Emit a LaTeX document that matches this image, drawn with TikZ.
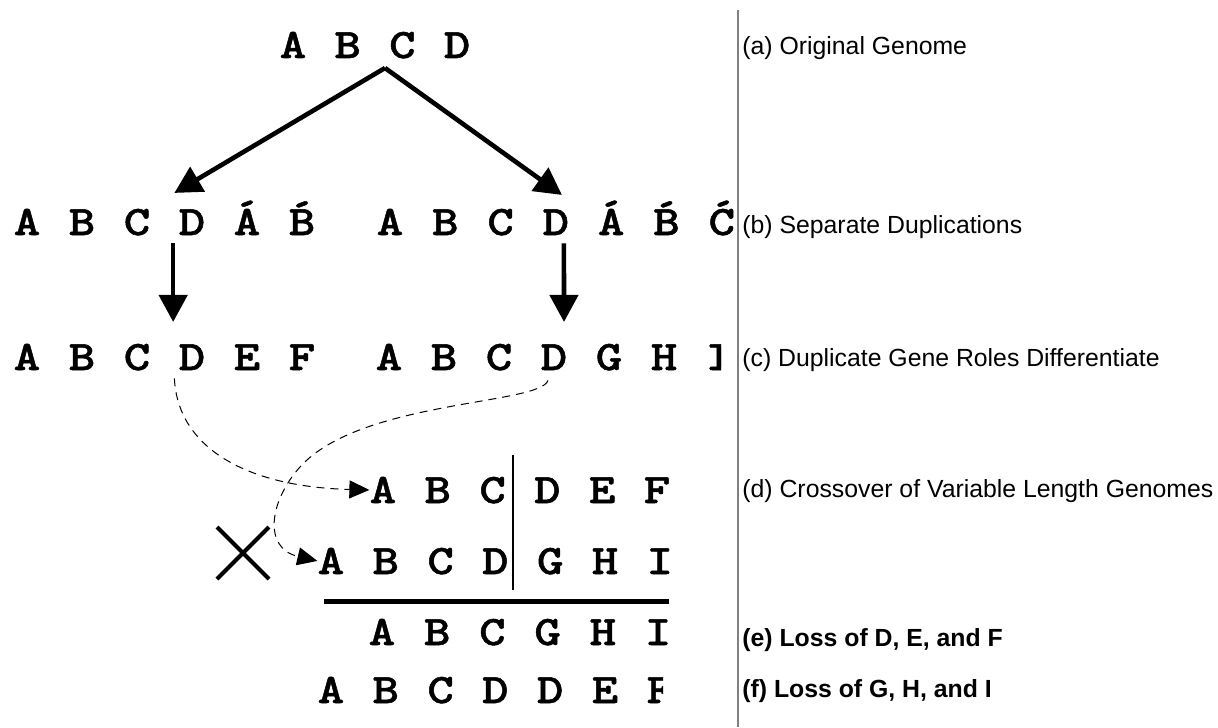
\documentclass[tikz,border=0pt]{standalone}
\usepackage{fontspec}
\setmainfont{Liberation Sans}
\newfontfamily\genefont{lmmonolt10-bold.otf}[FakeStretch=1.2, FakeBold=1.2]
\newcommand\Bacute{\accent"B4 B}
\usetikzlibrary{arrows.meta,shapes.misc}

\begin{document}
\begin{tikzpicture}[x=0.5pt, y=-0.5pt,
    gene/.style={font=\genefont\fontsize{21}{25}\selectfont, inner sep=0pt, anchor=base},
    stage/.style={font=\fontsize{12.4}{14}\selectfont, inner sep=0pt, anchor=base west},
    bigarrow/.style={line width=2.3pt, -{Triangle[length=13.5pt,width=14pt]}},
    moved/.style={line width=0.5pt, dash pattern=on 4pt off 3pt, -{Triangle[length=10pt,width=9pt]}}]
    \useasboundingbox (0,0) rectangle (1218,727);

    % genomes, one node per gene
    \foreach \g [count=\i] in {A,B,C,D}
        \node[gene] (a-\i) at ({293+54.7*(\i-1)},58) {\g};
    \foreach \g [count=\i] in {A,B,C,D,Á,\Bacute}
        \node[gene] (bl-\i) at ({27+55*(\i-1)},235) {\g};
    \foreach \g [count=\i] in {A,B,C,D,Á,\Bacute,Ć}
        \node[gene] (br-\i) at ({390+55.3*(\i-1)},235) {\g};
    \foreach \g [count=\i] in {A,B,C,D,E,F}
        \node[gene] (cl-\i) at ({27+55*(\i-1)},370) {\g};
    \begin{scope}
        \clip (370,320) rectangle (721,400);
        \foreach \g [count=\i] in {A,B,C,D,G,H,I}
            \node[gene] (cr-\i) at ({389+55*(\i-1)},370) {\g};
    \end{scope}
    \foreach \g [count=\i] in {A,B,C,D,E,F}
        \node[gene] (d1-\i) at ({383+54.8*(\i-1)},503) {\g};
    \foreach \g [count=\i] in {A,B,C,D,G,H,I}
        \node[gene] (d2-\i) at ({331+54.8*(\i-1)},574) {\g};
    \foreach \g [count=\i] in {A,B,C,G,H,I}
        \node[gene] (e-\i) at ({382+55.2*(\i-1)},645) {\g};
    \begin{scope}
        \clip (300,660) rectangle (663,727);
        \foreach \g [count=\i] in {A,B,C,D,D,E,F}
            \node[gene] (f-\i) at ({331+54.8*(\i-1)},703) {\g};
    \end{scope}

    % stage labels
    \node[stage] (sa) at (742,55) {(a) Original Genome};
    \node[stage] (sb) at (742,233) {(b) Separate Duplications};
    \node[stage] (sc) at (742,366) {(c) Duplicate Gene Roles Differentiate};
    \node[stage] (sd) at (742,497) {(d) Crossover of Variable Length Genomes};
    \node[stage, font=\bfseries\fontsize{12.4}{14}\selectfont] (se) at (742,646) {(e) Loss of D, E, and F};
    \node[stage, font=\bfseries\fontsize{12.4}{14}\selectfont] (sf) at (742,697) {(f) Loss of G, H, and I};
    \draw[line width=0.8pt, gray] (738,10) -- (738,727);

    % duplication
    \coordinate (split) at (385,68);
    \draw[bigarrow] (split) -- ([xshift=-2pt,yshift=8pt]bl-4.north west);
    \draw[bigarrow] (split) -- ([xshift=3pt,yshift=7pt]br-4.north);
    \draw[bigarrow] ([xshift=-2.6pt,yshift=-4pt]bl-4.south west) -- ([xshift=-2.6pt,yshift=11pt]cl-4.north west);
    \draw[bigarrow] ([xshift=4pt,yshift=-4pt]br-4.south) -- ([xshift=5pt,yshift=11pt]cr-4.north);

    % crossover
    \draw[moved] ([xshift=-2pt,yshift=-4pt]cl-4.south west) .. controls (178,450) and (250,487) .. (d1-1.west);
    \draw[moved] ([xshift=-3pt,yshift=-5pt]cr-4.south) .. controls (540,405) and (360,400) .. (300,467)
                 .. controls (270,500) and (262,548) .. (d2-1.west);
    \node[draw, cross out, line width=2pt, minimum size=24pt, inner sep=0pt] (cut) at (243,553) {};
    \draw[line width=0.6pt] (513,455) -- (513,590);
    \draw[line width=2.5pt] (324,601) -- (669,601);
\end{tikzpicture}
\end{document}
